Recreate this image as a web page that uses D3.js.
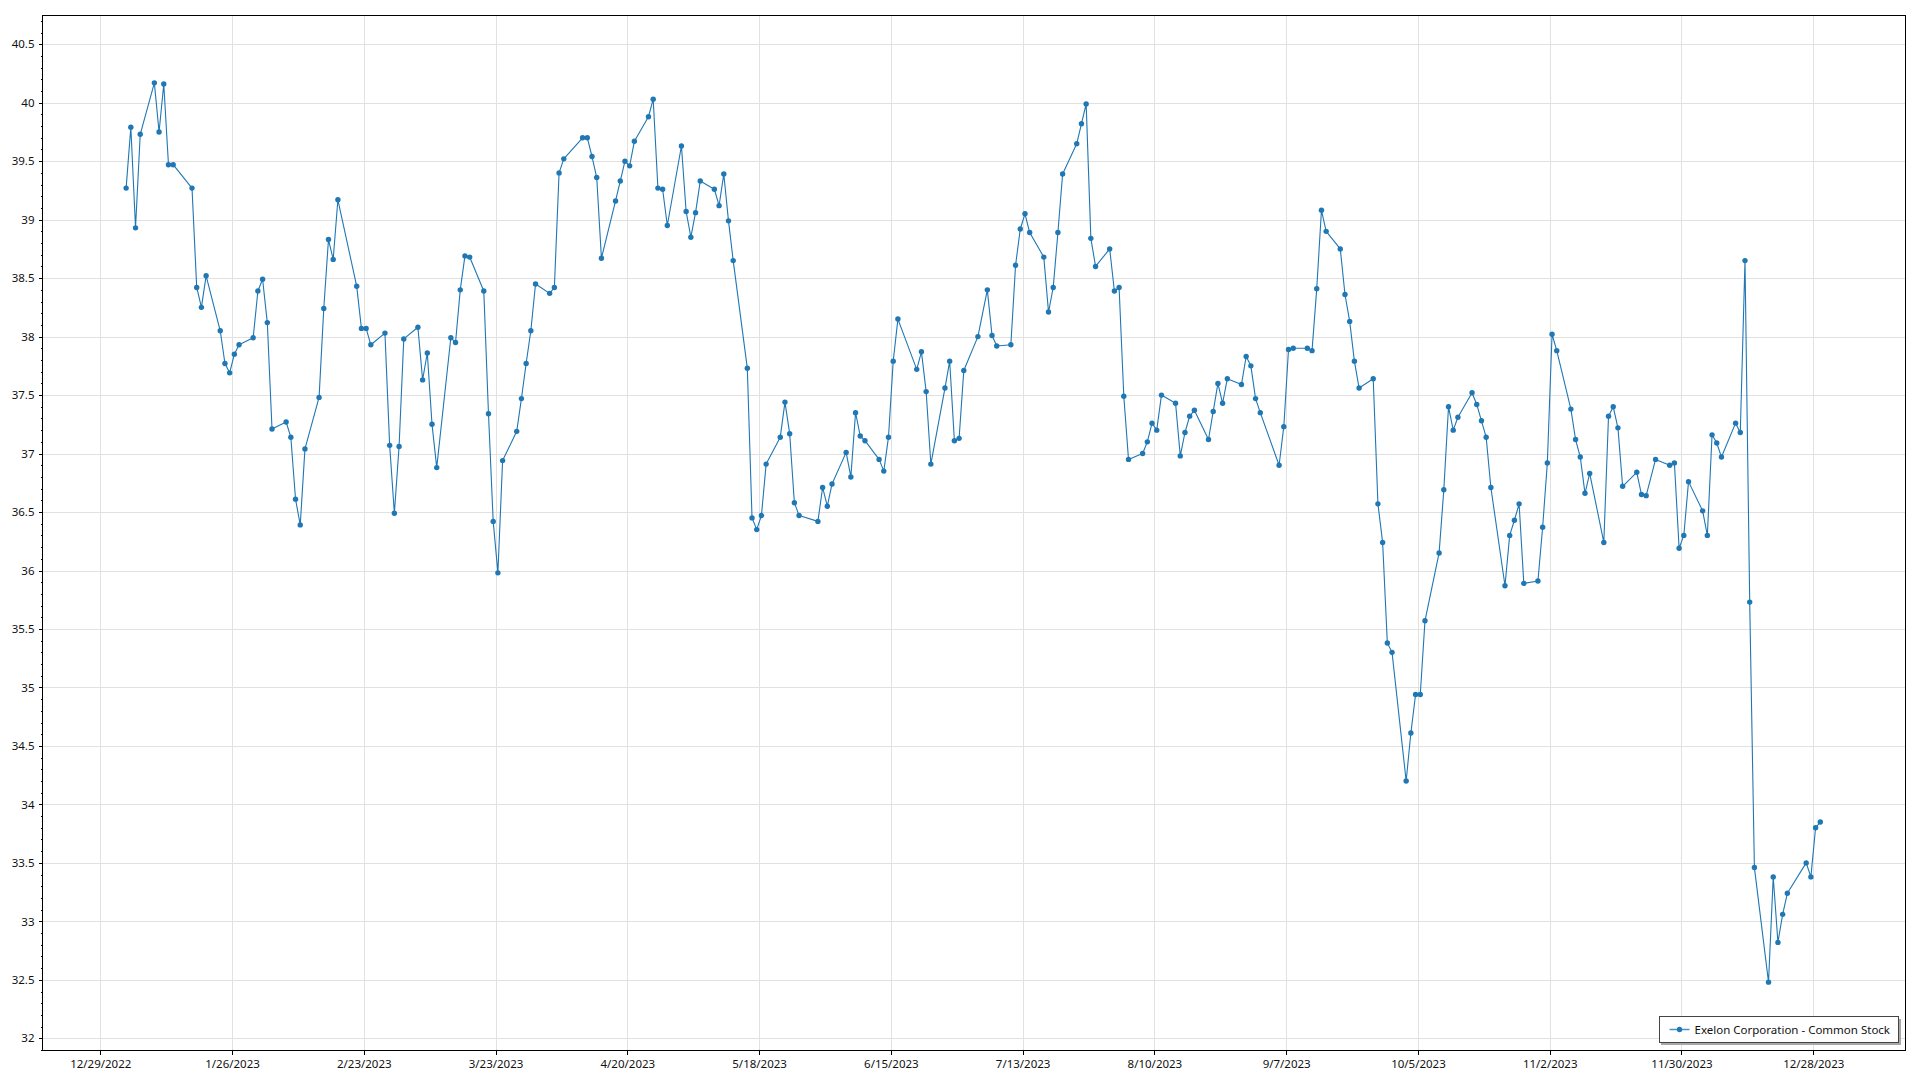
<!DOCTYPE html>
<html>
<head>
<meta charset="utf-8">
<script src="https://cdn.jsdelivr.net/npm/d3@7"></script>
<style>
  html, body { margin: 0; padding: 0; background: #fff; }
  svg { display: block; }
  text { font-family: 'Segoe UI', 'Noto Sans', sans-serif; fill: #111; }
</style>
</head>
<body>
<svg id="chart" width="1920" height="1080"></svg>
<script>
// ---------------- DATA ----------------
const seriesName = "Exelon Corporation - Common Stock";

const tradeDates = [
  "1/3","1/4","1/5","1/6","1/9","1/10","1/11","1/12","1/13","1/17","1/18","1/19","1/20",
  "1/23","1/24","1/25","1/26","1/27","1/30","1/31",
  "2/1","2/2","2/3","2/6","2/7","2/8","2/9","2/10","2/13","2/14","2/15","2/16","2/17",
  "2/21","2/22","2/23","2/24","2/27","2/28",
  "3/1","3/2","3/3","3/6","3/7","3/8","3/9","3/10","3/13","3/14","3/15","3/16","3/17",
  "3/20","3/21","3/22","3/23","3/24","3/27","3/28","3/29","3/30","3/31",
  "4/3","4/4","4/5","4/6","4/10","4/11","4/12","4/13","4/14","4/17","4/18","4/19","4/20","4/21",
  "4/24","4/25","4/26","4/27","4/28",
  "5/1","5/2","5/3","5/4","5/5","5/8","5/9","5/10","5/11","5/12","5/15","5/16","5/17","5/18","5/19",
  "5/22","5/23","5/24","5/25","5/26","5/30","5/31",
  "6/1","6/2","6/5","6/6","6/7","6/8","6/9","6/12","6/13","6/14","6/15","6/16",
  "6/20","6/21","6/22","6/23","6/26","6/27","6/28","6/29","6/30",
  "7/3","7/5","7/6","7/7","7/10","7/11","7/12","7/13","7/14","7/17","7/18","7/19","7/20","7/21",
  "7/24","7/25","7/26","7/27","7/28","7/31",
  "8/1","8/2","8/3","8/4","8/7","8/8","8/9","8/10","8/11","8/14","8/15","8/16","8/17","8/18",
  "8/21","8/22","8/23","8/24","8/25","8/28","8/29","8/30","8/31",
  "9/1","9/5","9/6","9/7","9/8","9/11","9/12","9/13","9/14","9/15","9/18","9/19","9/20","9/21","9/22",
  "9/25","9/26","9/27","9/28","9/29",
  "10/2","10/3","10/4","10/5","10/6","10/9","10/10","10/11","10/12","10/13","10/16","10/17","10/18","10/19","10/20",
  "10/23","10/24","10/25","10/26","10/27","10/30","10/31",
  "11/1","11/2","11/3","11/6","11/7","11/8","11/9","11/10","11/13","11/14","11/15","11/16","11/17",
  "11/20","11/21","11/22","11/24","11/27","11/28","11/29","11/30",
  "12/1","12/4","12/5","12/6","12/7","12/8","12/11","12/12","12/13","12/14","12/15",
  "12/18","12/19","12/20","12/21","12/22","12/26","12/27","12/28","12/29"
];

const closePrices = [
  39.27,39.79,38.93,39.73,40.17,39.75,40.16,39.47,39.47,39.27,38.42,38.25,38.52,
  38.05,37.77,37.69,37.85,37.93,37.99,38.39,
  38.49,38.12,37.21,37.27,37.14,36.61,36.39,37.04,37.48,38.24,38.83,38.66,39.17,
  38.43,38.07,38.07,37.93,38.03,37.07,
  36.49,37.06,37.98,38.08,37.63,37.86,37.25,36.88,37.99,37.95,38.40,38.69,38.68,
  38.39,37.34,36.42,35.98,36.94,37.19,37.47,37.77,38.05,38.45,
  38.37,38.42,39.40,39.52,39.70,39.70,39.54,39.36,38.67,39.16,39.33,39.50,39.46,39.67,
  39.88,40.03,39.27,39.26,38.95,
  39.63,39.07,38.85,39.06,39.33,39.26,39.12,39.39,38.99,38.65,37.73,36.45,36.35,36.47,36.91,
  37.14,37.44,37.17,36.58,36.47,36.42,36.71,
  36.55,36.74,37.01,36.80,37.35,37.15,37.11,36.95,36.85,37.14,37.79,38.15,
  37.72,37.87,37.53,36.91,37.56,37.79,37.11,37.13,37.71,
  38.00,38.40,38.01,37.92,37.93,38.61,38.92,39.05,38.89,38.68,38.21,38.42,38.89,39.39,
  39.65,39.82,39.99,38.84,38.60,38.75,
  38.39,38.42,37.49,36.95,37.00,37.10,37.26,37.20,37.50,37.43,36.98,37.18,37.32,37.37,
  37.12,37.36,37.60,37.43,37.64,37.59,37.83,37.75,37.47,
  37.35,36.90,37.23,37.89,37.90,37.90,37.88,38.41,39.08,38.90,38.75,38.36,38.13,37.79,37.56,
  37.64,36.57,36.24,35.38,35.30,
  34.20,34.61,34.94,34.94,35.57,36.15,36.69,37.40,37.20,37.31,37.52,37.42,37.28,37.14,36.71,
  35.87,36.30,36.43,36.57,35.89,35.91,36.37,
  36.92,38.02,37.88,37.38,37.12,36.97,36.66,36.83,36.24,37.32,37.40,37.22,36.72,
  36.84,36.65,36.64,36.95,36.90,36.92,36.19,36.30,
  36.76,36.51,36.30,37.16,37.09,36.97,37.26,37.18,38.65,35.73,33.46,
  32.48,33.38,32.82,33.06,33.24,33.50,33.38,33.80,33.85
];

const xTickLabels = ["12/29/2022","1/26/2023","2/23/2023","3/23/2023","4/20/2023","5/18/2023",
  "6/15/2023","7/13/2023","8/10/2023","9/7/2023","10/5/2023","11/2/2023","11/30/2023","12/28/2023"];
const yTickLabels = ["32","32.5","33","33.5","34","34.5","35","35.5","36","36.5","37","37.5",
  "38","38.5","39","39.5","40","40.5"];

// ---------------- CHART ----------------
const svg = d3.select("#chart");
const W = 1920, H = 1080;
const plot = { left: 42, top: 15, right: 1905, bottom: 1050 };
const color = "#1f77b4";

svg.append("rect").attr("width", W).attr("height", H).attr("fill", "#fff");

function parseMDY(s) { const p = s.split("/").map(Number); return new Date(p[2], p[0] - 1, p[1]); }

const data = tradeDates.map((d, i) => {
  const p = d.split("/").map(Number);
  return { date: new Date(2023, p[0] - 1, p[1], 12), value: closePrices[i] };
});

const x = d3.scaleTime()
  .domain([new Date(2022, 11, 16, 15), new Date(2024, 0, 16, 12)])
  .range([plot.left, plot.right]);
const y = d3.scaleLinear()
  .domain([31.9, 40.75])
  .range([plot.bottom, plot.top]);

const xTicks = xTickLabels.map(parseMDY);
const yTicks = yTickLabels.map(Number);
const yMinor = d3.range(319, 408, 1).map(v => v / 10).filter(v => Math.abs(v * 2 - Math.round(v * 2)) > 1e-6);

// Gridlines
const grid = svg.append("g").attr("shape-rendering", "crispEdges");
grid.selectAll("line.gx").data(xTicks).join("line")
  .attr("x1", d => Math.round(x(d)) + 0.5).attr("x2", d => Math.round(x(d)) + 0.5)
  .attr("y1", plot.top).attr("y2", plot.bottom)
  .attr("stroke", "#e1e1e1").attr("stroke-width", 1);
grid.selectAll("line.gy").data(yTicks).join("line")
  .attr("x1", plot.left).attr("x2", plot.right)
  .attr("y1", d => Math.round(y(d)) + 0.5).attr("y2", d => Math.round(y(d)) + 0.5)
  .attr("stroke", "#e1e1e1").attr("stroke-width", 1);

// Axes
const yAxis = d3.axisLeft(y).tickValues(yTicks).tickFormat((d, i) => yTickLabels[i]).tickSizeInner(4).tickSizeOuter(0).tickPadding(4);
const gy = svg.append("g").attr("transform", `translate(${plot.left + 0.5},0)`).call(yAxis);
const yAxisMinor = d3.axisLeft(y).tickValues(yMinor).tickFormat("").tickSizeInner(2).tickSizeOuter(0);
const gym = svg.append("g").attr("transform", `translate(${plot.left + 0.5},0)`).call(yAxisMinor);

const xAxis = d3.axisBottom(x).tickValues(xTicks).tickFormat((d, i) => xTickLabels[i]).tickSizeInner(4).tickSizeOuter(0).tickPadding(5);
const gx = svg.append("g").attr("transform", `translate(0,${plot.bottom + 0.5})`).call(xAxis);

[gy, gym, gx].forEach(g => {
  g.select(".domain").remove();
  g.selectAll(".tick line").attr("stroke", "#000").attr("shape-rendering", "crispEdges");
  g.selectAll(".tick text").attr("font-size", "11.5px").attr("fill", "#111")
    .style("font-family", "'Segoe UI','Noto Sans',sans-serif");
});

// Plot border
svg.append("rect")
  .attr("x", plot.left + 0.5).attr("y", plot.top + 0.5)
  .attr("width", plot.right - plot.left).attr("height", plot.bottom - plot.top)
  .attr("fill", "none").attr("stroke", "#000").attr("stroke-width", 1)
  .attr("shape-rendering", "crispEdges");

// Series
const line = d3.line().x(d => x(d.date)).y(d => y(d.value));
svg.append("path").datum(data)
  .attr("d", line).attr("fill", "none")
  .attr("stroke", color).attr("stroke-width", 1.1).attr("stroke-linejoin", "round");
svg.append("g").selectAll("circle").data(data).join("circle")
  .attr("cx", d => x(d.date)).attr("cy", d => y(d.value)).attr("r", 2.7)
  .attr("fill", color);

// Legend
const lg = svg.append("g");
const lgRight = 1898, lgTop = 1016, lgH = 26;
const lgText = lg.append("text").text(seriesName)
  .attr("font-size", "11.5px").attr("dominant-baseline", "central").attr("fill", "#111");
const tw = lgText.node().getComputedTextLength();
const lgW = tw + 44;
const lgLeft = lgRight - lgW;
lg.insert("rect", "text").attr("x", lgLeft + 2.5).attr("y", lgTop + 2.5).attr("width", lgW).attr("height", lgH)
  .attr("fill", "#a8a8a8").attr("shape-rendering", "crispEdges");
lg.insert("rect", "text").attr("x", lgLeft + 0.5).attr("y", lgTop + 0.5).attr("width", lgW).attr("height", lgH)
  .attr("fill", "#fff").attr("stroke", "#444").attr("stroke-width", 1).attr("shape-rendering", "crispEdges");
const lcy = lgTop + lgH / 2 + 0.5;
lg.append("line").attr("x1", lgLeft + 11).attr("x2", lgLeft + 31).attr("y1", lcy).attr("y2", lcy)
  .attr("stroke", color).attr("stroke-width", 1.5).attr("opacity", 0.8);
lg.append("circle").attr("cx", lgLeft + 21).attr("cy", lcy).attr("r", 2.7).attr("fill", color);
lgText.attr("x", lgLeft + 36).attr("y", lcy);
</script>
</body>
</html>
